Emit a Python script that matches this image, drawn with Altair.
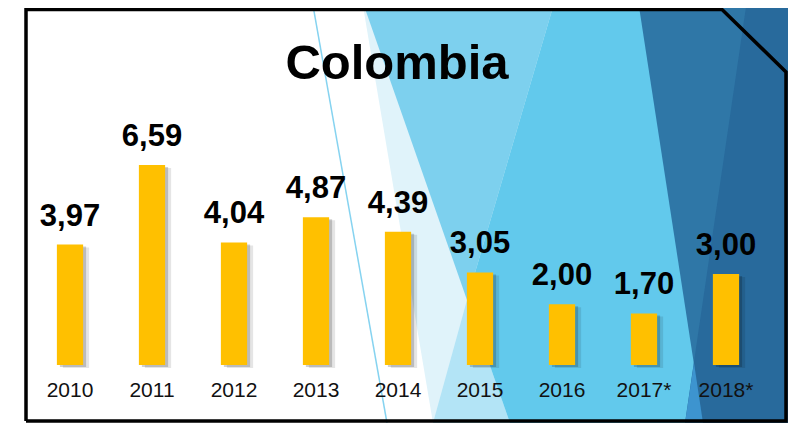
import altair as alt
import pandas as pd

# ---- data ----
years = ["2010", "2011", "2012", "2013", "2014", "2015", "2016", "2017*", "2018*"]
values = [3.97, 6.59, 4.04, 4.87, 4.39, 3.05, 2.00, 1.70, 3.00]
value_labels = [f"{v:.2f}".replace(".", ",") for v in values]
title_text = "Colombia"

BAR_COLOR = "#FFC000"
FONT = "Liberation Sans"

# ---- decorative background facets (page pixels): colour, [(y, x_left, x_right), ...]
BG_SHAPES = [
    ("#E0F3FA", [(0, 362, 796), (423, 433, 796)]),
    ("#7DD0EE", [(0, 362, 555), (300, 467, 467)]),
    ("#B3E4F6", [(300, 467, 467), (423, 433, 510)]),
    ("#62C9EC", [(0, 555, 796), (300, 467, 796), (423, 510, 796)]),
    ("#2F77A7", [(0, 638, 796), (423, 703, 796)]),
    ("#286A9C", [(0, 747, 796), (423, 685, 796)]),
    ("#3D94CF", [(363, 694, 694), (423, 685, 703)]),
]
ACCENT_LINE = [(312, 0), (387, 423)]
FRAME = [(26, 421), (26, 9.5), (722, 9.5), (786, 72), (786, 421), (26, 421)]
TITLE_POS = [(397, 79)]

W, H = 780, 415
PX_X = alt.Scale(domain=[8, 8 + W], range=[0, W])
PX_Y = alt.Scale(domain=[8, 8 + H], range=[0, H])

# background layers
bg_layers = []
for color, pts in BG_SHAPES:
    df = pd.DataFrame(pts, columns=["py", "x1", "x2"])
    bg_layers.append(
        alt.Chart(df).mark_area(orient="horizontal", color=color, clip=True).encode(
            y=alt.Y("py:Q", scale=PX_Y, axis=None),
            x=alt.X("x1:Q", scale=PX_X, axis=None, stack=None),
            x2="x2:Q",
        )
    )

line_df = pd.DataFrame(ACCENT_LINE, columns=["px", "py"]).assign(o=range(len(ACCENT_LINE)))
accent = alt.Chart(line_df).mark_line(color="#86D3F0", strokeWidth=1.5, clip=True).encode(
    x=alt.X("px:Q", scale=PX_X, axis=None),
    y=alt.Y("py:Q", scale=PX_Y, axis=None),
    order="o:Q",
)

frame_df = pd.DataFrame(FRAME, columns=["px", "py"]).assign(o=range(len(FRAME)))
frame = alt.Chart(frame_df).mark_line(color="black", strokeWidth=3.5, strokeJoin="miter").encode(
    x=alt.X("px:Q", scale=PX_X, axis=None),
    y=alt.Y("py:Q", scale=PX_Y, axis=None),
    order="o:Q",
)

title_df = pd.DataFrame(TITLE_POS, columns=["px", "py"]).assign(t=title_text)
title = alt.Chart(title_df).mark_text(
    font=FONT, fontSize=49, fontWeight="bold", color="black", baseline="alphabetic", align="center"
).encode(
    x=alt.X("px:Q", scale=PX_X, axis=None),
    y=alt.Y("py:Q", scale=PX_Y, axis=None),
    text="t:N",
)

deco = alt.layer(*bg_layers, accent, frame, title)

# ---- bar chart ----
data = pd.DataFrame({"year": years, "value": values, "label": value_labels})
xenc = alt.X(
    "year:N", sort=years, axis=None,
    scale=alt.Scale(range=[21, 759], paddingInner=0.68, paddingOuter=0.34),
)
yenc = alt.Y("value:Q", axis=None, scale=alt.Scale(domain=[0, 10], range=[357, 53.5]))

base = alt.Chart(data).encode(x=xenc)

shadow1 = base.mark_bar(color="#000000", opacity=0.18, xOffset=3, yOffset=2).encode(y=yenc)
shadow2 = base.mark_bar(color="#000000", opacity=0.10, xOffset=6, yOffset=3).encode(y=yenc)
bars = base.mark_bar(color=BAR_COLOR).encode(y=yenc)
vlabels = base.mark_text(
    font=FONT, fontSize=31, fontWeight="bold", color="black", baseline="alphabetic", dy=-19
).encode(y=yenc, text="label:N")
xlabels = base.mark_text(
    font=FONT, fontSize=21, color="#111111", baseline="alphabetic", dy=32
).encode(y=alt.datum(0), text="year:N")

barchart = alt.layer(shadow2, shadow1, bars, vlabels, xlabels)

chart = (
    alt.layer(deco, barchart)
    .resolve_scale(x="independent", y="independent")
    .properties(
        width=W,
        height=H,
        autosize=alt.AutoSizeParams(type="none"),
        padding=0,
        background="white",
    )
    .configure_view(stroke=None)
)

chart.save("out.html", embed_options={"renderer": "svg", "actions": False})
